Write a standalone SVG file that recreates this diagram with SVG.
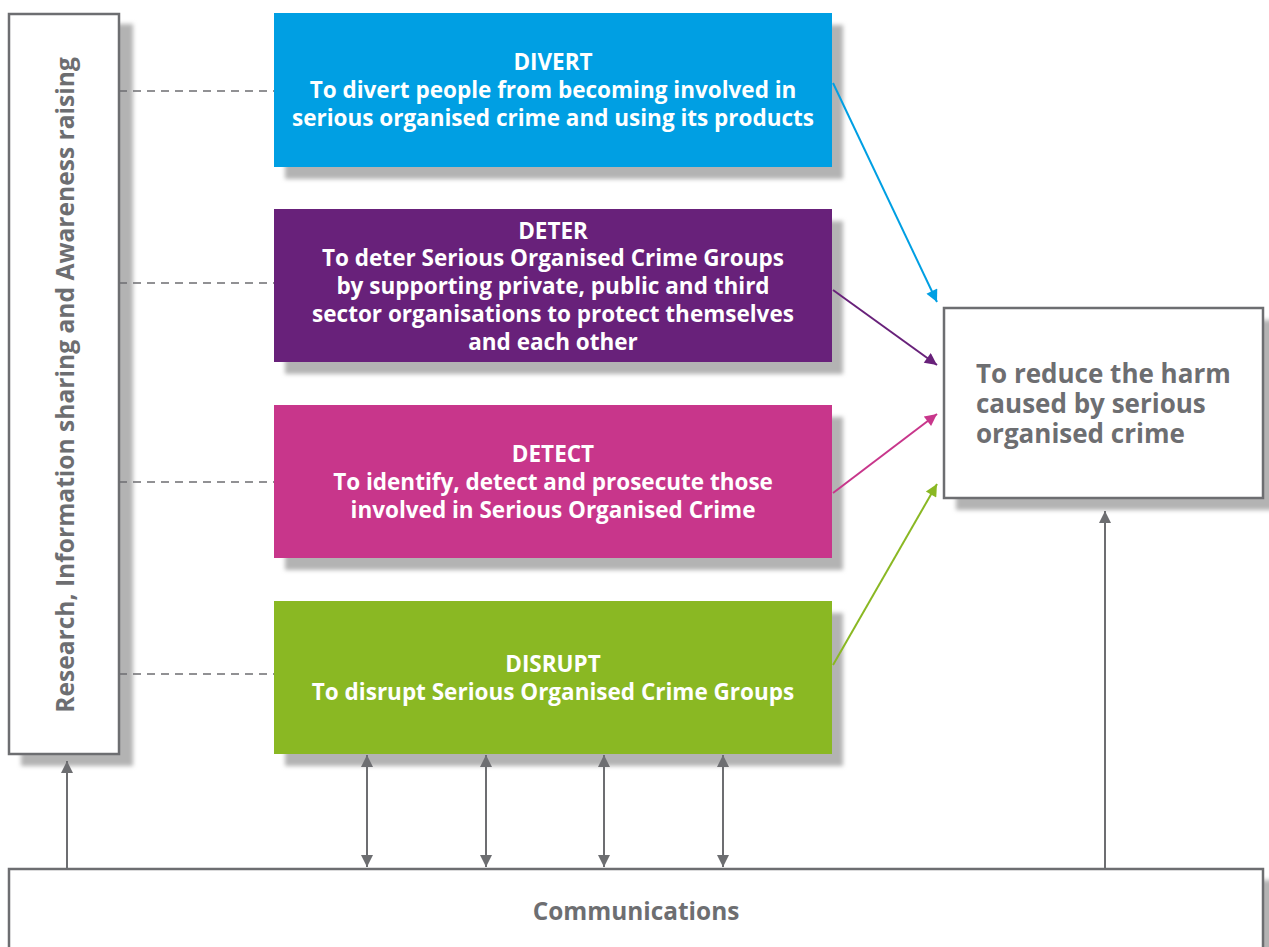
<svg xmlns="http://www.w3.org/2000/svg" width="1269" height="947" viewBox="0 0 1269 947">
<style>
.sh{fill:#b3b3b3;filter:url(#blur)}
.wb{fill:#fff;stroke:#6d6e71;stroke-width:2.5}
.wt{fill:#fff;font-family:"Open Sans","Noto Sans",sans-serif;font-weight:700;font-size:22.5px;text-anchor:middle}
.gt{fill:#6d6e71;font-family:"Open Sans","Noto Sans",sans-serif;font-weight:700}
.dash{stroke:#6d6e71;stroke-width:1.5;stroke-dasharray:8 6;fill:none}
.gl{stroke:#6d6e71;stroke-width:2;fill:none}
</style>
<defs>
<filter id="blur" x="-10%" y="-10%" width="120%" height="120%"><feGaussianBlur stdDeviation="2"/></filter>
<marker id="agB" viewBox="0 0 10 10" refX="10" refY="5" markerWidth="16" markerHeight="12" markerUnits="userSpaceOnUse" orient="auto-start-reverse"><path d="M0,0 L10,5 L0,10 z" fill="#6d6e71"/></marker>
<marker id="ab" viewBox="0 0 10 10" refX="10" refY="5" markerWidth="16" markerHeight="12" markerUnits="userSpaceOnUse" orient="auto"><path d="M0,0 L10,5 L0,10 z" fill="#009fe3"/></marker>
<marker id="ap" viewBox="0 0 10 10" refX="10" refY="5" markerWidth="16" markerHeight="12" markerUnits="userSpaceOnUse" orient="auto"><path d="M0,0 L10,5 L0,10 z" fill="#68217a"/></marker>
<marker id="ak" viewBox="0 0 10 10" refX="10" refY="5" markerWidth="16" markerHeight="12" markerUnits="userSpaceOnUse" orient="auto"><path d="M0,0 L10,5 L0,10 z" fill="#c8368b"/></marker>
<marker id="an" viewBox="0 0 10 10" refX="10" refY="5" markerWidth="16" markerHeight="12" markerUnits="userSpaceOnUse" orient="auto"><path d="M0,0 L10,5 L0,10 z" fill="#8ab823"/></marker>
</defs>
<rect width="1269" height="947" fill="#fff"/>

<g id="research">
<rect class="sh" x="21" y="24" width="112" height="742"/>
<rect class="wb" x="9" y="14" width="110" height="740"/>
<text class="gt" font-size="24.6" text-anchor="middle" transform="translate(74,385) rotate(-90)">Research, Information sharing and Awareness raising</text>
</g>

<g id="divert">
<rect class="sh" x="285" y="25" width="558" height="154"/>
<rect x="274" y="13" width="558" height="154" fill="#009fe3"/>
<text class="wt" x="553" y="70">DIVERT</text>
<text class="wt" x="553" y="98">To divert people from becoming involved in</text>
<text class="wt" x="553" y="126">serious organised crime and using its products</text>
</g>

<g id="deter">
<rect class="sh" x="285" y="221" width="558" height="153"/>
<rect x="274" y="209" width="558" height="153" fill="#68217a"/>
<text class="wt" x="553" y="239">DETER</text>
<text class="wt" x="553" y="266">To deter Serious Organised Crime Groups</text>
<text class="wt" x="553" y="294">by supporting private, public and third</text>
<text class="wt" x="553" y="322">sector organisations to protect themselves</text>
<text class="wt" x="553" y="350">and each other</text>
</g>

<g id="detect">
<rect class="sh" x="285" y="417" width="558" height="153"/>
<rect x="274" y="405" width="558" height="153" fill="#c8368b"/>
<text class="wt" x="553" y="462">DETECT</text>
<text class="wt" x="553" y="490">To identify, detect and prosecute those</text>
<text class="wt" x="553" y="518">involved in Serious Organised Crime</text>
</g>

<g id="disrupt">
<rect class="sh" x="285" y="613" width="558" height="153"/>
<rect x="274" y="601" width="558" height="153" fill="#8ab823"/>
<text class="wt" x="553" y="672">DISRUPT</text>
<text class="wt" x="553" y="700">To disrupt Serious Organised Crime Groups</text>
</g>

<g id="goal">
<rect class="sh" x="956" y="320" width="319" height="190"/>
<rect class="wb" x="944" y="308" width="319" height="190"/>
<text class="gt" font-size="26" x="976" y="383">To reduce the harm</text>
<text class="gt" font-size="26" x="976" y="413">caused by serious</text>
<text class="gt" font-size="26" x="976" y="443">organised crime</text>
</g>

<g id="communications">
<rect class="sh" x="21" y="880" width="1254" height="90"/>
<rect class="wb" x="9" y="869" width="1254" height="100"/>
<text class="gt" font-size="24.4" text-anchor="middle" x="636" y="920">Communications</text>
</g>

<g id="connectors">
<line class="dash" x1="119" y1="91" x2="274" y2="91"/>
<line class="dash" x1="119" y1="283" x2="274" y2="283"/>
<line class="dash" x1="119" y1="482" x2="274" y2="482"/>
<line class="dash" x1="119" y1="674" x2="274" y2="674"/>
<line x1="833" y1="83" x2="937" y2="302" stroke="#009fe3" stroke-width="2" marker-end="url(#ab)"/>
<line x1="833" y1="290" x2="937" y2="365" stroke="#68217a" stroke-width="2" marker-end="url(#ap)"/>
<line x1="833" y1="493" x2="937" y2="414" stroke="#c8368b" stroke-width="2" marker-end="url(#ak)"/>
<line x1="833" y1="665" x2="937" y2="484" stroke="#8ab823" stroke-width="2" marker-end="url(#an)"/>
<line class="gl" x1="1105" y1="868" x2="1105" y2="511" marker-end="url(#agB)"/>
<line class="gl" x1="67" y1="868" x2="67" y2="761" marker-end="url(#agB)"/>
<line class="gl" x1="367" y1="755" x2="367" y2="867" marker-start="url(#agB)" marker-end="url(#agB)"/>
<line class="gl" x1="486" y1="755" x2="486" y2="867" marker-start="url(#agB)" marker-end="url(#agB)"/>
<line class="gl" x1="604" y1="755" x2="604" y2="867" marker-start="url(#agB)" marker-end="url(#agB)"/>
<line class="gl" x1="723" y1="755" x2="723" y2="867" marker-start="url(#agB)" marker-end="url(#agB)"/>
</g>
</svg>
